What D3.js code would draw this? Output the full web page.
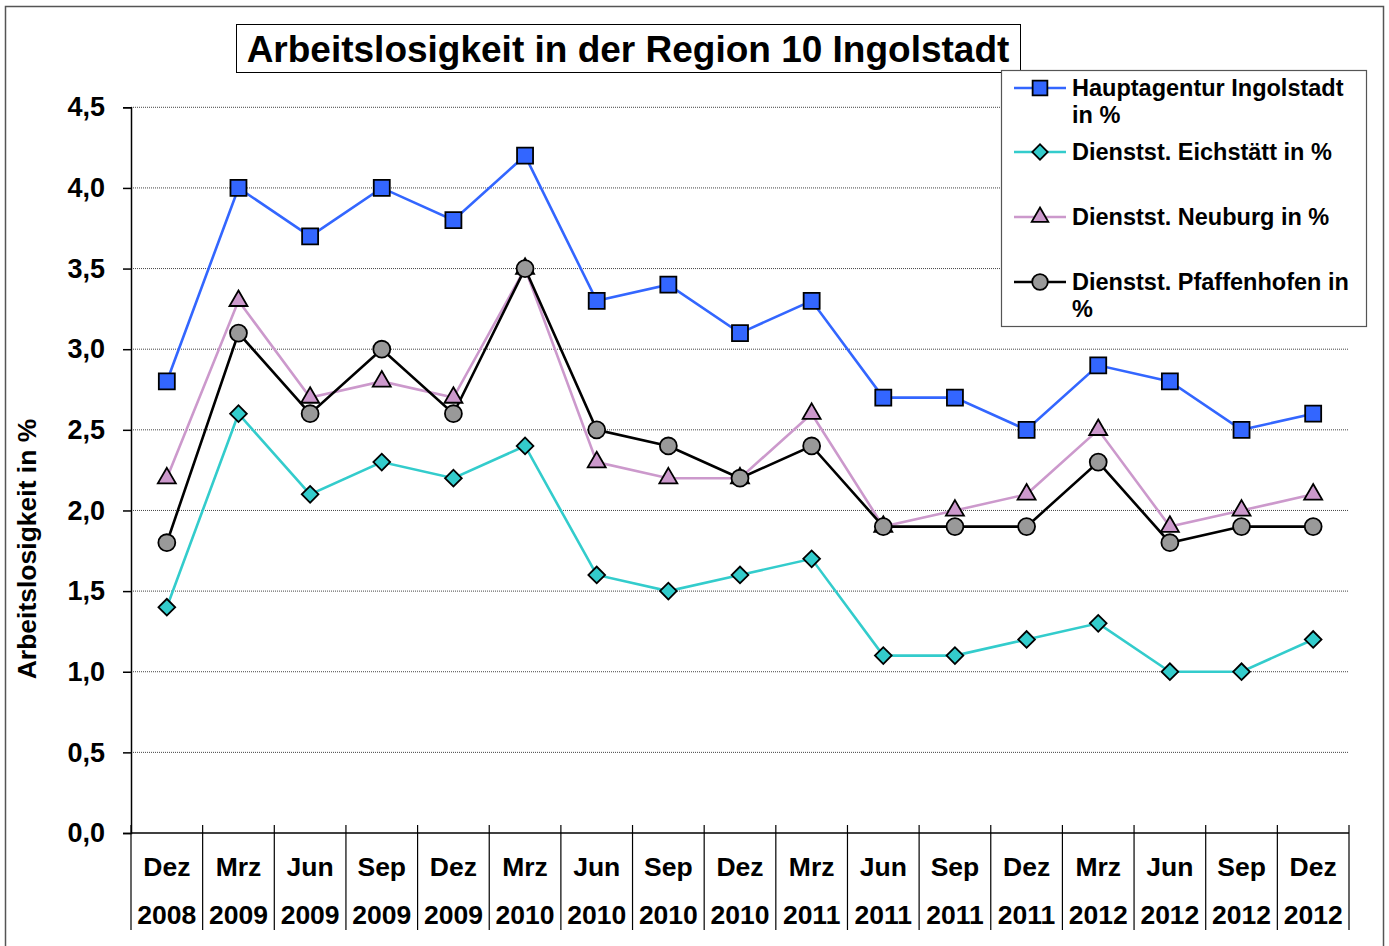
<!DOCTYPE html>
<html>
<head>
<meta charset="utf-8">
<script src="https://cdn.jsdelivr.net/npm/d3@7"></script>
<style>
  body { margin: 0; background: #fff; }
  text { font-family: Arial, "Liberation Sans", sans-serif; font-weight: bold; }
</style>
</head>
<body>
<svg id="chart"></svg>
<script>
// data
var months = ["Dez","Mrz","Jun","Sep","Dez","Mrz","Jun","Sep","Dez","Mrz","Jun","Sep","Dez","Mrz","Jun","Sep","Dez"];
var years  = ["2008","2009","2009","2009","2009","2010","2010","2010","2010","2011","2011","2011","2011","2012","2012","2012","2012"];
var hauptagentur = [2.8,4.0,3.7,4.0,3.8,4.2,3.3,3.4,3.1,3.3,2.7,2.7,2.5,2.9,2.8,2.5,2.6];
var eichstaett   = [1.4,2.6,2.1,2.3,2.2,2.4,1.6,1.5,1.6,1.7,1.1,1.1,1.2,1.3,1.0,1.0,1.2];
var neuburg      = [2.2,3.3,2.7,2.8,2.7,3.5,2.3,2.2,2.2,2.6,1.9,2.0,2.1,2.5,1.9,2.0,2.1];
var pfaffenhofen = [1.8,3.1,2.6,3.0,2.6,3.5,2.5,2.4,2.2,2.4,1.9,1.9,1.9,2.3,1.8,1.9,1.9];
var yTicks = [0,0.5,1,1.5,2,2.5,3,3.5,4,4.5];

var W = 1389, H = 946;
var svg = d3.select('#chart').attr('width', W).attr('height', H);

// outer frame
svg.append('rect').attr('x', 5.5).attr('y', 6.5).attr('width', 1378).attr('height', 950)
  .attr('fill', 'none').attr('stroke', '#555').attr('stroke-width', 1.5);

var pLeft = 131, pRight = 1349, pTop = 107.3, pBottom = 833;

var x = d3.scaleBand().domain(d3.range(months.length)).range([pLeft, pRight]).padding(0);
var y = d3.scaleLinear().domain([0, 4.5]).range([pBottom, pTop]);
var cx = function(i){ return x(i) + x.bandwidth()/2; };

// grid
svg.append('g').selectAll('line').data(yTicks.filter(function(d){ return d > 0; })).enter().append('line')
  .attr('x1', pLeft).attr('x2', pRight)
  .attr('y1', function(d){ return y(d); }).attr('y2', function(d){ return y(d); })
  .attr('stroke', '#444').attr('stroke-width', 1).attr('stroke-dasharray', '1,1');

// y axis
var yAxis = d3.axisLeft(y).tickValues(yTicks).tickSize(8).tickPadding(18)
  .tickFormat(function(d){ return d3.format('.1f')(d).replace('.', ','); });
var gy = svg.append('g').attr('transform', 'translate(' + pLeft + ',0)').call(yAxis);
gy.select('.domain').attr('stroke', '#000').attr('stroke-width', 1.5);
gy.selectAll('.tick line').attr('stroke', '#000').attr('stroke-width', 1.5);
gy.selectAll('.tick text').attr('font-size', 27).attr('fill', '#000')
  .style('font-family', 'Arial, "Liberation Sans", sans-serif').style('font-weight', 'bold');

// x axis line
svg.append('line').attr('x1', pLeft).attr('x2', pRight).attr('y1', pBottom).attr('y2', pBottom)
  .attr('stroke', '#000').attr('stroke-width', 1.5);
// category separators
var seps = d3.range(months.length + 1);
svg.append('g').selectAll('line').data(seps).enter().append('line')
  .attr('x1', function(i){ return pLeft + i * x.bandwidth(); })
  .attr('x2', function(i){ return pLeft + i * x.bandwidth(); })
  .attr('y1', pBottom - 8).attr('y2', 930)
  .attr('stroke', '#000').attr('stroke-width', 1.2);

var xl = svg.append('g').selectAll('g').data(months).enter().append('g');
xl.append('text').attr('x', function(d,i){ return cx(i); }).attr('y', 876)
  .attr('text-anchor', 'middle').attr('font-size', 26.5).text(function(d){ return d; });
xl.append('text').attr('x', function(d,i){ return cx(i); }).attr('y', 924)
  .attr('text-anchor', 'middle').attr('font-size', 26.5).text(function(d,i){ return years[i]; });

// y title
svg.append('text').attr('transform', 'translate(36,549)rotate(-90)')
  .attr('text-anchor', 'middle').attr('font-size', 26.5).text('Arbeitslosigkeit in %');

// title
svg.append('rect').attr('x', 236.5).attr('y', 24.5).attr('width', 784).attr('height', 48)
  .attr('fill', '#fff').attr('stroke', '#000').attr('stroke-width', 1);
svg.append('text').attr('x', 628).attr('y', 62).attr('text-anchor', 'middle')
  .attr('font-size', 37).text('Arbeitslosigkeit in der Region 10 Ingolstadt');

var series = [
  { name: ['Hauptagentur Ingolstadt', 'in %'], values: hauptagentur, line: '#3366FF', fill: '#3366FF', sym: d3.symbolSquare, size: 256, rot: 0 },
  { name: ['Dienstst. Eichstätt in %'], values: eichstaett, line: '#33CCCC', fill: '#33CCCC', sym: d3.symbolSquare, size: 140, rot: 45 },
  { name: ['Dienstst. Neuburg in %'], values: neuburg, line: '#CC99CC', fill: '#CC99CC', sym: d3.symbolTriangle, size: 140, rot: 0 },
  { name: ['Dienstst. Pfaffenhofen in', '%'], values: pfaffenhofen, line: '#000000', fill: '#999999', sym: d3.symbolCircle, size: 225, rot: 0 }
];

var line = d3.line().x(function(d,i){ return cx(i); }).y(function(d){ return y(d); });

series.forEach(function(s){
  svg.append('path').datum(s.values).attr('d', line)
    .attr('fill', 'none').attr('stroke', s.line).attr('stroke-width', 2.6);
});
series.forEach(function(s){
  svg.append('g').selectAll('path').data(s.values).enter().append('path')
    .attr('d', d3.symbol().type(s.sym).size(s.size))
    .attr('transform', function(d,i){ return 'translate(' + cx(i) + ',' + y(d) + ')rotate(' + s.rot + ')'; })
    .attr('fill', s.fill).attr('stroke', '#000').attr('stroke-width', 1.8);
});

// legend
svg.append('rect').attr('x', 1001.5).attr('y', 70.5).attr('width', 1366 - 1001).attr('height', 256)
  .attr('fill', '#fff').attr('stroke', '#555').attr('stroke-width', 1.2);
var legY = [88, 152, 217, 282];
series.forEach(function(s, k){
  var g = svg.append('g').attr('transform', 'translate(0,' + legY[k] + ')');
  g.append('line').attr('x1', 1014).attr('x2', 1066).attr('y1', 0).attr('y2', 0)
    .attr('stroke', s.line).attr('stroke-width', 2.6);
  g.append('path').attr('d', d3.symbol().type(s.sym).size(s.size * 0.85))
    .attr('transform', 'translate(1040,0)rotate(' + s.rot + ')')
    .attr('fill', s.fill).attr('stroke', '#000').attr('stroke-width', 1.8);
  s.name.forEach(function(t, j){
    g.append('text').attr('x', 1072).attr('y', 8 + j * 27).attr('font-size', 23.5).text(t);
  });
});
</script>
</body>
</html>
